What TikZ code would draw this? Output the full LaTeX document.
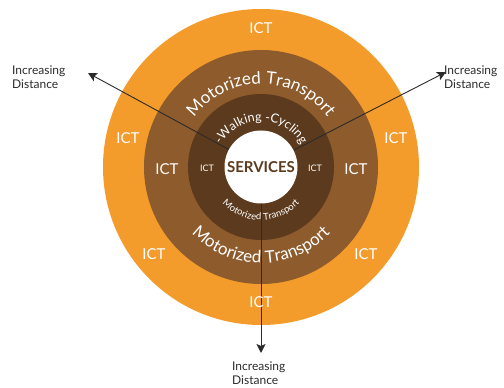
\documentclass[tikz,border=0pt]{standalone}
\usepackage{fontspec}
\setmainfont{Lato}
\usetikzlibrary{decorations.text,arrows.meta}
\definecolor{ictorange}{HTML}{F39B2B}
\definecolor{motorbrown}{HTML}{8E5B2C}
\definecolor{walkbrown}{HTML}{5B3A1D}
\definecolor{arrowgray}{HTML}{2B2B2B}
\begin{document}
\begin{tikzpicture}[x=1pt,y=1pt,
  ict/.style={text=white,font=\fontsize{15}{15}\selectfont},
  smallict/.style={text=white,font=\fontsize{9}{9}\selectfont},
  dist/.style={align=left,anchor=north west,inner sep=0pt,text=arrowgray,
    font=\fontsize{12}{13.5}\selectfont},
  ring text/.style={decorate,decoration={text along path,text align=center,text={#1}}}]
\useasboundingbox (0,0) rectangle (504,388);
\coordinate (o) at (261,221);
\fill[ictorange] (o) circle [radius=158];
\fill[motorbrown] (o) circle [radius=117];
\fill[walkbrown] (o) circle [radius=73];
% arrows out of the centre
\coordinate (ul) at (88,315);
\coordinate (ur) at (446,316);
\coordinate (dn) at (261,35);
\draw[arrowgray,line width=0.9pt,-{Stealth[length=9pt,width=9pt,inset=2pt]}] (o) -- (ul);
\draw[arrowgray,line width=0.9pt,-{Stealth[length=9pt,width=9pt,inset=2pt]}] (o) -- (ur);
\draw[arrowgray,line width=0.9pt,-{Stealth[length=9pt,width=9pt,inset=2pt]}] (o) -- (dn);
\fill[white] (o) circle [radius=36.5];
\node[text=walkbrown,font=\fontsize{15}{15}\selectfont\bfseries] (services) at (o) {SERVICES};
% curved texts
\path[ring text={|\fontsize{17}{17}\selectfont\color{white}|Motorized Transport}]
  (o) ++(165:83) arc[start angle=165,end angle=15,radius=83];
\path[ring text={|\fontsize{17}{17}\selectfont\color{white}|Motorized Transport}]
  (o) ++(200:96) arc[start angle=200,end angle=340,radius=96];
\path[ring text={|\fontsize{12.5}{12.5}\selectfont\color{white}|-Walking -Cycling}]
  (o) ++(170:46) arc[start angle=170,end angle=10,radius=46];
\path[ring text={|\fontsize{9.5}{9.5}\selectfont\color{white}|Motorized Transport}]
  (o) ++(190:53) arc[start angle=190,end angle=350,radius=53];
% ICT labels
\node[ict] (i1) at (261,360) {ICT};
\node[ict] (i2) at (128,250) {ICT};
\node[ict] (i3) at (396,250) {ICT};
\node[ict] (i4) at (154,134) {ICT};
\node[ict] (i5) at (366,134) {ICT};
\node[ict] (i6) at (261,86) {ICT};
\node[ict] (i7) at (167,219) {ICT};
\node[ict] (i8) at (356,219) {ICT};
\node[smallict] (i9) at (207,220) {ICT};
\node[smallict] (i10) at (315,220) {ICT};
% distance labels
\node[dist] (dl) at (12,322) {Increasing\\Distance};
\node[dist] (dr) at (444,322) {Increasing\\Distance};
\node[dist] (dd) at (232,26) {Increasing\\Distance};
\end{tikzpicture}
\end{document}
